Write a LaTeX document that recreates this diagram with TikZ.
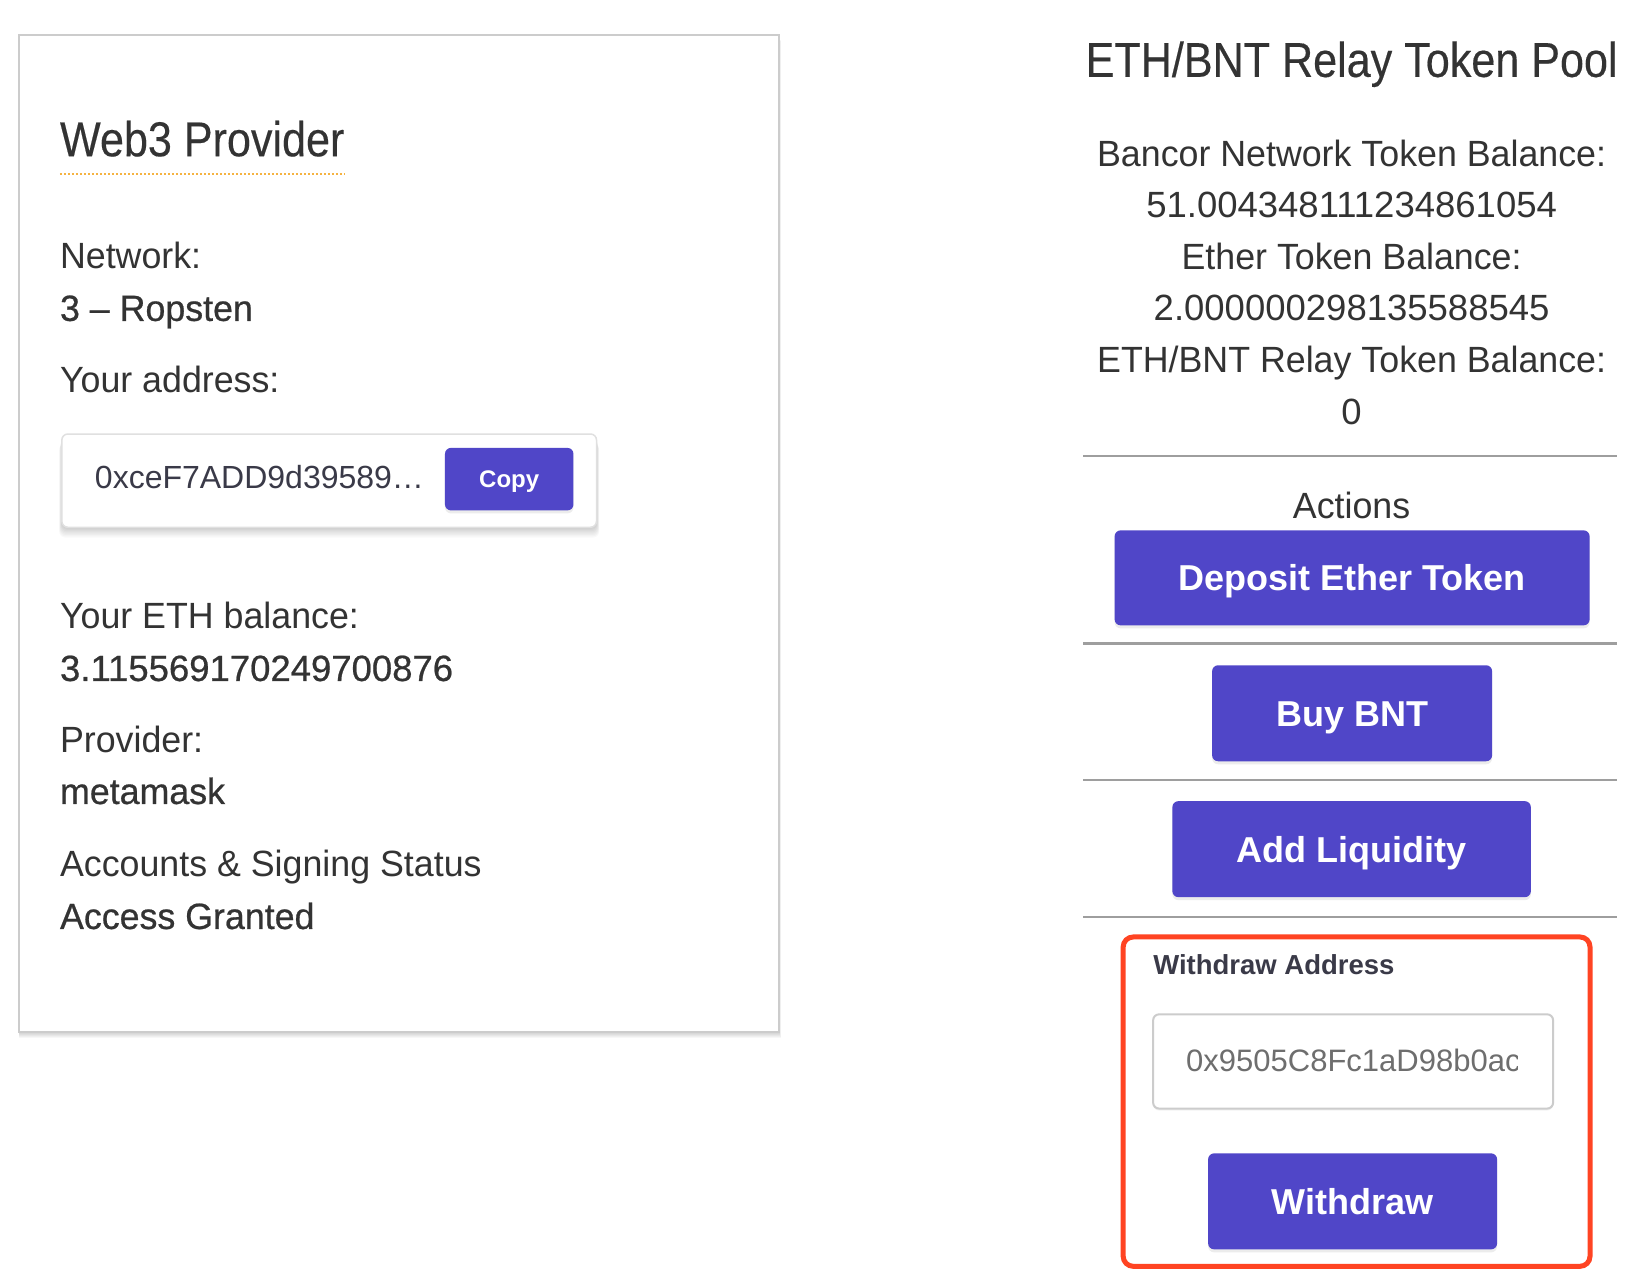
\documentclass[tikz,border=0pt]{standalone}
\usepackage{fontspec}
\setmainfont{Liberation Sans}
\newfontfamily\headfont[FakeStretch=0.88, FakeBold=0.3]{Liberation Sans}
\newfontfamily\bodyfont[FakeStretch=0.98]{Liberation Sans}
\newfontfamily\valfont[FakeStretch=0.98, FakeBold=0.6]{Liberation Sans}
\usetikzlibrary{positioning,shadows}
\definecolor{txtgray}{HTML}{333333}
\definecolor{btnblue}{HTML}{5046C8}
\definecolor{panelgray}{HTML}{CCCCCC}
\definecolor{rulegray}{HTML}{9E9E9E}
\definecolor{alertred}{HTML}{FF4423}
\definecolor{dotorange}{HTML}{F5B342}
\definecolor{navytxt}{HTML}{3A3A48}
\definecolor{hintgray}{HTML}{6E6E6E}
\tikzset{
	headtext/.style = {font=\headfont\fontsize{49}{56}\selectfont, text=txtgray, inner sep=0pt},
	bodytext/.style = {font=\bodyfont\fontsize{36.5}{42}\selectfont, text=txtgray, inner sep=0pt},
	valtext/.style = {bodytext, font=\valfont\fontsize{36.5}{42}\selectfont},
	numtext/.style = {bodytext, font=\fontsize{36.5}{42}\selectfont},
	btn/.style = {fill=btnblue, rounded corners=6pt, text=white, inner sep=0pt,
		font=\bfseries\fontsize{36}{40}\selectfont, text height=26pt, text depth=0pt,
		drop shadow={opacity=.15, shadow xshift=0pt, shadow yshift=-3pt}},
	sepline/.style = {draw=rulegray, line width=2.5pt},
}

\begin{document}
\begin{tikzpicture}[x=1pt, y=-1pt, node distance=1]
\useasboundingbox (0,0) rectangle (1648,1280);
\fill[white] (0,0) rectangle (1648,1280);
\begin{scope}[xscale=0.9975, yscale=0.992, yshift=-2.5pt]

% LEFT PANEL
\foreach \s in {1,...,6}
	\fill[black, opacity=.03] (19,33+\s) rectangle (781+\s/3,1038+\s);
\draw[panelgray, line width=2pt, fill=white] (19,33) rectangle (781,1038);
\node (web3) [headtext, anchor=base west] at (60,155) {Web3 Provider};
\draw[dotorange, line width=2pt, dash pattern=on 2pt off 2pt] (web3.base west) ++(0,18) -- ++(286,0);
\node (net) [bodytext, anchor=base west] at (60,268) {Network:};
\node (netval) [valtext, anchor=base west] at ([yshift=-53pt]net.base west) {3 – Ropsten};
\node (addr) [bodytext, anchor=base west] at (60,393) {Your address:};
% address field
\foreach \s in {1,...,8}
	\fill[black, opacity=.022, rounded corners=6pt] (62-\s/3,435+\s*1.3) rectangle (598+\s/3,529+\s*1.3);
\draw[black!12, line width=1.5pt, fill=white, rounded corners=6pt] (62,435) rectangle (598,529);
\node (addrval) [anchor=base west, inner sep=0pt, text=navytxt, font=\fontsize{32}{36}\selectfont] at (95,490) {0xceF7ADD9d39589…};
\node (copy) [btn, minimum width=128.5pt, minimum height=62.5pt, font=\bfseries\fontsize{24}{28}\selectfont, text height=17pt] at (510.5,480.5) {Copy};
\node (eth) [bodytext, anchor=base west] at (60,631) {Your ETH balance:};
\node (ethval) [valtext, font=\fontsize{36.5}{42}\selectfont\addfontfeatures{FakeBold=0.6}, anchor=base west] at ([yshift=-53pt]eth.base west) {3.115569170249700876};
\node (prov) [bodytext, anchor=base west] at (60,756) {Provider:};
\node (provval) [valtext, anchor=base west] at ([yshift=-52pt]prov.base west) {metamask};
\node (acc) [bodytext, anchor=base west] at (60,881) {Accounts \& Signing Status};
\node (accval) [valtext, anchor=base west] at ([yshift=-53pt]acc.base west) {Access Granted};

% RIGHT PANEL
\node (pool) [headtext, anchor=base] at (1355,75) {ETH/BNT Relay Token Pool};
\node (bnt) [bodytext, anchor=base] at (1355,165) {Bancor Network Token Balance:};
\node (bntval) [numtext, anchor=base] at (1355,217) {51.004348111234861054};
\node (ether) [bodytext, anchor=base] at (1355,269) {Ether Token Balance:};
\node (etherval) [numtext, anchor=base] at (1355,321) {2.000000298135588545};
\node (relay) [bodytext, anchor=base] at (1355,373) {ETH/BNT Relay Token Balance:};
\node (relayval) [numtext, anchor=base] at (1355,425) {0};
\foreach \y in {457,646,784,922}
	\draw[sepline] (1086,\y) -- (1621,\y);
\node (actions) [bodytext, anchor=base] at (1355,520) {Actions};
\node (deposit) [btn, minimum width=475pt, minimum height=95pt] at (1355.5,580) {Deposit Ether Token};
\node (buy) [btn, minimum width=280pt, minimum height=96pt] at (1355.5,716.5) {Buy BNT};
\node (liq) [btn, minimum width=358.5pt, minimum height=96pt] at (1355,853.5) {Add Liquidity};

% withdraw box
\draw[alertred, line width=5pt, rounded corners=10pt] (1126,942) rectangle (1594,1274);
\node (wlabel) [anchor=base west, inner sep=0pt, text=navytxt, font=\bfseries\fontsize{27.5}{32}\selectfont] at (1156,980) {Withdraw Address};
\fill[black, opacity=.05, rounded corners=6pt] (1156,1022) rectangle (1557,1117);
\draw[black!20, line width=2pt, fill=white, rounded corners=6pt] (1156,1020) rectangle (1557,1115);
\begin{scope}
	\clip (1158,1022) rectangle (1521,1113);
	\node (waddr) [anchor=base west, inner sep=0pt, text=hintgray, font=\fontsize{31}{36}\selectfont] at (1189,1078) {0x9505C8Fc1aD98b0ac};
\end{scope}
\node (withdraw) [btn, minimum width=289pt, minimum height=96pt] at (1356,1208.5) {Withdraw};

\end{scope}
\end{tikzpicture}
\end{document}
